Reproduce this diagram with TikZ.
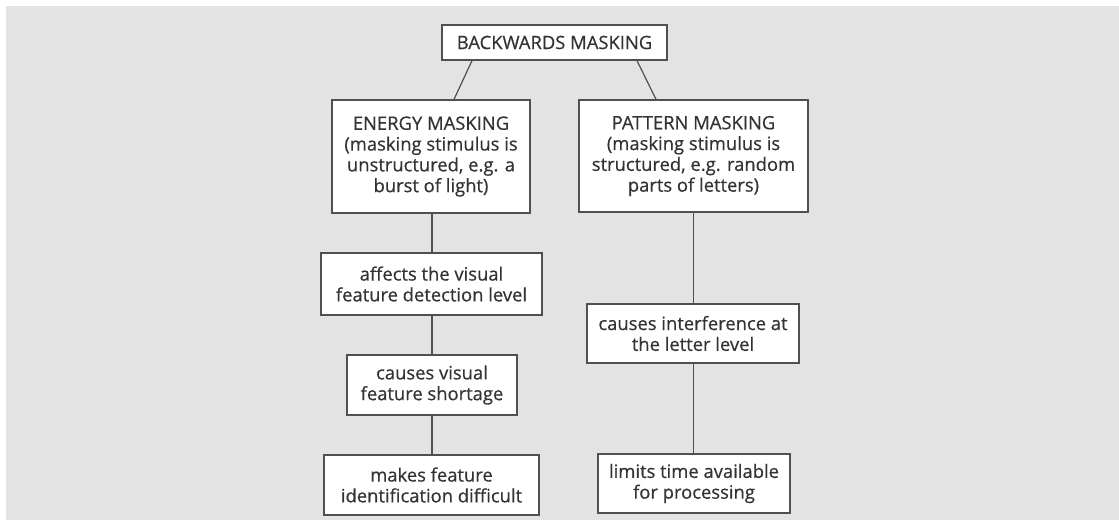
\documentclass[tikz,border=0pt]{standalone}
\usepackage{fontspec}
\setmainfont{Open Sans}
\newfontfamily\boxfont{Open Sans}[FakeBold=0.5]
\definecolor{bggray}{HTML}{E3E3E3}
\definecolor{edge}{HTML}{505050}
\definecolor{txt}{HTML}{333333}
\begin{document}
\begin{tikzpicture}[x=0.75pt,y=-0.75pt,
  box/.style={draw=edge,line width=1pt,fill=white,text=txt,align=center,inner sep=0pt,
    font=\boxfont\fontsize{13.8}{15.6}\selectfont},
  conn/.style={draw=edge,line width=0.9pt}]
\useasboundingbox (0,0) rectangle (1119,527);
\fill[bggray] (6,6) rectangle (1119,520);
\node[box,minimum width=225*0.75pt,minimum height=35*0.75pt] (top) at (554.5,42.5) {BACKWARDS MASKING};
\node[box,minimum width=198*0.75pt,minimum height=113*0.75pt] (energy) at (431,156.5) {ENERGY MASKING\\(masking stimulus is\\unstructured, e.g. a\\burst of light)};
\node[box,minimum width=229*0.75pt,minimum height=112*0.75pt] (pattern) at (693.5,156) {PATTERN MASKING\\(masking stimulus is\\structured, e.g. random\\parts of letters)};
\node[box,minimum width=221*0.75pt,minimum height=62*0.75pt] (affects) at (431.5,284) {affects the visual\\feature detection level};
\node[box,minimum width=170*0.75pt,minimum height=60*0.75pt] (shortage) at (432,385) {causes visual\\feature shortage};
\node[box,minimum width=215*0.75pt,minimum height=60*0.75pt] (makes) at (431.5,485) {makes feature\\identification difficult};
\node[box,minimum width=212*0.75pt,minimum height=59*0.75pt] (interf) at (693,333.5) {causes interference at\\the letter level};
\node[box,minimum width=192*0.75pt,minimum height=59*0.75pt] (limits) at (694,483.5) {limits time available\\for processing};
\draw[conn] ([xshift=-82.5*0.75pt]top.south) -- ([xshift=23*0.75pt]energy.north);
\draw[conn] ([xshift=82.5*0.75pt]top.south) -- ([xshift=-37.5*0.75pt]pattern.north);
\draw[conn] ([xshift=0.75pt]energy.south) -- ([xshift=0.75pt]energy.south |- affects.north);
\draw[conn] (shortage.north |- affects.south) -- (shortage.north);
\draw[conn] (shortage.south) -- (shortage.south |- makes.north);
\draw[conn] (pattern.south) -- (pattern.south |- interf.north);
\draw[conn] (interf.south -| pattern.south) -- (pattern.south |- limits.north);
\end{tikzpicture}
\end{document}
